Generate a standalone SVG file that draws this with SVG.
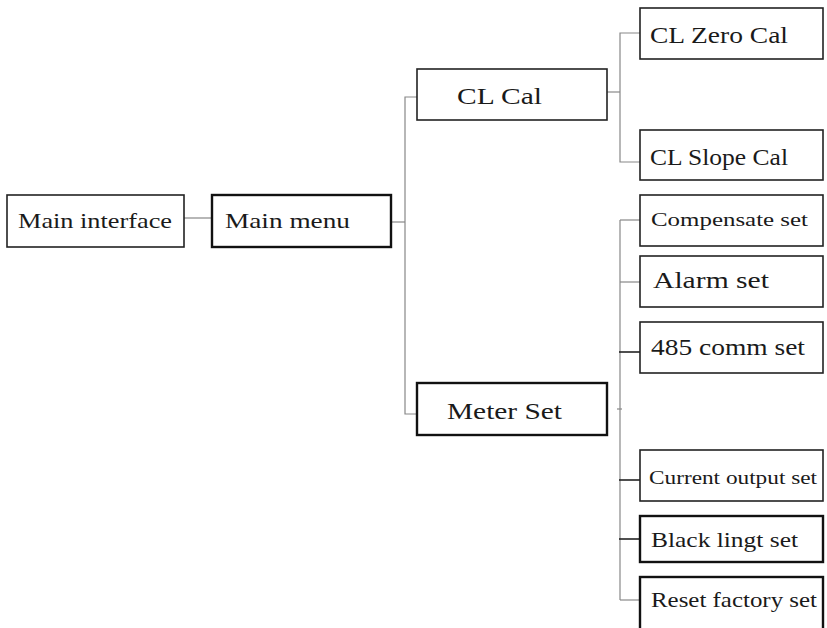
<svg xmlns="http://www.w3.org/2000/svg" width="827" height="628" viewBox="0 0 827 628">
<style>
.box{fill:#fff;stroke:#222;stroke-width:1.6}
.bold{stroke-width:2.4;stroke:#111}
.t{font-family:'Liberation Serif',Tinos,'Times New Roman',Times,serif;fill:#1a1a1a}
.c{fill:none;stroke:#888;stroke-width:1.2}
.cb{fill:none;stroke:#222;stroke-width:1.6}
</style>
<rect width="827" height="628" fill="#fff"/>
<g id="connectors">
<line class="c" x1="184" y1="218" x2="212" y2="218"/>
<line class="c" x1="391" y1="222" x2="405" y2="222"/>
<polyline class="c" points="417,97 405,97 405,414 417,414"/>
<line class="c" x1="607" y1="92" x2="620" y2="92"/>
<polyline class="c" points="640,33 620,33 620,162 640,162"/>
<line class="c" x1="617" y1="409" x2="622" y2="409"/>
<line class="c" x1="620" y1="220" x2="620" y2="600"/>
<line class="c" x1="620" y1="220" x2="640" y2="220"/>
<line class="c" x1="620" y1="282" x2="640" y2="282"/>
<line class="cb" x1="619" y1="352" x2="640" y2="352"/>
<line class="cb" x1="619" y1="480" x2="640" y2="480"/>
<line class="cb" x1="619" y1="539" x2="640" y2="539"/>
<line class="c" x1="620" y1="600" x2="640" y2="600"/>
</g>
<g id="main-interface">
<rect class="box" x="7" y="195" width="177" height="52"/>
<text class="t" x="18" y="228" font-size="22" textLength="154" lengthAdjust="spacingAndGlyphs">Main interface</text>
</g>
<g id="main-menu">
<rect class="box bold" x="212" y="195" width="179" height="52"/>
<text class="t" x="225" y="228" font-size="22" textLength="125" lengthAdjust="spacingAndGlyphs">Main menu</text>
</g>
<g id="cl-cal">
<rect class="box" x="417" y="69" width="190" height="51"/>
<text class="t" x="457" y="104" font-size="24" textLength="85" lengthAdjust="spacingAndGlyphs">CL Cal</text>
</g>
<g id="meter-set">
<rect class="box bold" x="417" y="383" width="190" height="52"/>
<text class="t" x="447" y="419" font-size="24" textLength="115" lengthAdjust="spacingAndGlyphs">Meter Set</text>
</g>
<g id="cl-zero-cal">
<rect class="box" x="640" y="8" width="183" height="51"/>
<text class="t" x="650" y="43" font-size="23" textLength="138" lengthAdjust="spacingAndGlyphs">CL Zero Cal</text>
</g>
<g id="cl-slope-cal">
<rect class="box" x="640" y="130" width="183" height="50"/>
<text class="t" x="650" y="165" font-size="23" textLength="138" lengthAdjust="spacingAndGlyphs">CL Slope Cal</text>
</g>
<g id="compensate-set">
<rect class="box" x="640" y="195" width="183" height="51"/>
<text class="t" x="651" y="226" font-size="19" textLength="157" lengthAdjust="spacingAndGlyphs">Compensate set</text>
</g>
<g id="alarm-set">
<rect class="box" x="640" y="256" width="183" height="51"/>
<text class="t" x="653" y="288" font-size="24" textLength="116" lengthAdjust="spacingAndGlyphs">Alarm set</text>
</g>
<g id="comm-set">
<rect class="box" x="640" y="322" width="183" height="51"/>
<text class="t" x="651" y="355" font-size="23" textLength="154" lengthAdjust="spacingAndGlyphs">485 comm set</text>
</g>
<g id="current-output-set">
<rect class="box" x="640" y="450" width="183" height="51"/>
<text class="t" x="649" y="484" font-size="19" textLength="168" lengthAdjust="spacingAndGlyphs">Current output set</text>
</g>
<g id="black-lingt-set">
<rect class="box bold" x="640" y="516" width="183" height="46"/>
<text class="t" x="651" y="547" font-size="22" textLength="147" lengthAdjust="spacingAndGlyphs">Black lingt set</text>
</g>
<g id="reset-factory-set">
<rect class="box bold" x="640" y="577" width="183" height="55"/>
<text class="t" x="651" y="607" font-size="21" textLength="166" lengthAdjust="spacingAndGlyphs">Reset factory set</text>
</g>
</svg>
